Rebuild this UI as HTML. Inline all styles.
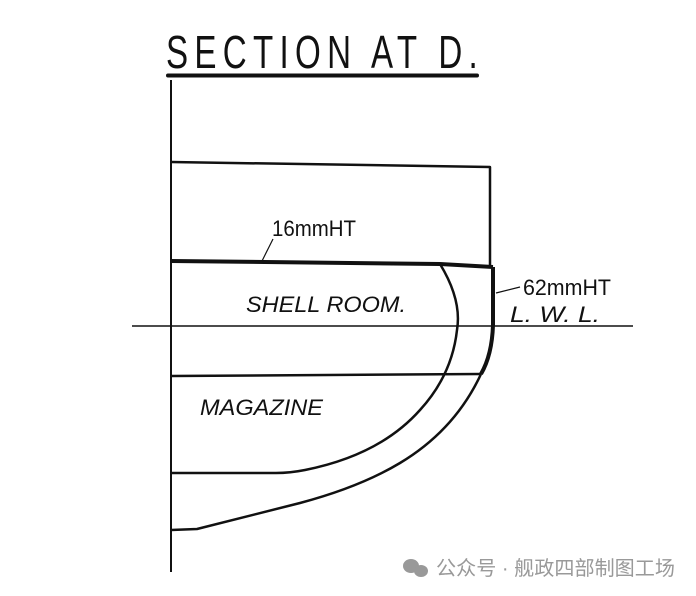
<!DOCTYPE html>
<html><head><meta charset="utf-8"><style>
body{margin:0;background:#fff;}
svg{display:block}
</style></head><body>
<svg width="696" height="596" viewBox="0 0 696 596" xmlns="http://www.w3.org/2000/svg">
<rect width="696" height="596" fill="#fff"/>
<g transform="translate(166,68) scale(0.72,1)">
<text x="0" y="0" font-family="Liberation Sans, sans-serif" font-size="46" textLength="433" lengthAdjust="spacing" fill="#111">SECTION AT D.</text>
</g>
<line x1="168" y1="75.5" x2="477" y2="75.5" stroke="#111" stroke-width="4" stroke-linecap="round"/>
<g fill="none" stroke="#111" stroke-linejoin="round">
<line x1="171" y1="80" x2="171" y2="572" stroke-width="2"/>
<line x1="132" y1="326" x2="633" y2="326" stroke-width="1.5"/>
<polyline points="171,162 490,167 490,268" stroke-width="2.5"/>
<polyline points="171,261 440,264 493,267" stroke-width="4"/>
<path d="M493,267 L493,325 Q492,355 481,374" stroke-width="4"/>
<line x1="171" y1="376" x2="481" y2="374" stroke-width="2.5"/>
<path d="M440,264 Q462,300 457,330 Q452,375 420,410 Q380,455 305,470 Q290,473 276,473 L171,473" stroke-width="2.5"/>
<path d="M481,374 Q455,430 400,463 Q360,487 300,503 L197,529 L171,530" stroke-width="2.5"/>
<line x1="262" y1="261" x2="273" y2="239" stroke-width="1.2"/>
<line x1="496" y1="293" x2="520" y2="287" stroke-width="1.2"/>
</g>
<g font-family="Liberation Sans, sans-serif" fill="#111">
<text x="272" y="236" font-size="22" textLength="84" lengthAdjust="spacingAndGlyphs">16mmHT</text>
<text x="523" y="295" font-size="22" textLength="88" lengthAdjust="spacingAndGlyphs">62mmHT</text>
<text x="510" y="322" font-size="22" font-style="italic" textLength="90" lengthAdjust="spacingAndGlyphs">L. W. L.</text>
<text x="246" y="312" font-size="22" font-style="italic" textLength="160" lengthAdjust="spacingAndGlyphs">SHELL ROOM.</text>
<text x="200" y="415" font-size="22" font-style="italic" textLength="123" lengthAdjust="spacingAndGlyphs">MAGAZINE</text>
</g>
<g fill="#999">
<ellipse cx="411" cy="566" rx="8" ry="7"/>
<ellipse cx="421" cy="571" rx="7" ry="6"/>
</g>
<text x="436" y="575" font-family="Liberation Sans, Noto Sans CJK SC, sans-serif" font-size="20" fill="#999" textLength="239" lengthAdjust="spacingAndGlyphs">公众号 · 舰政四部制图工场</text>
</svg>
</body></html>
